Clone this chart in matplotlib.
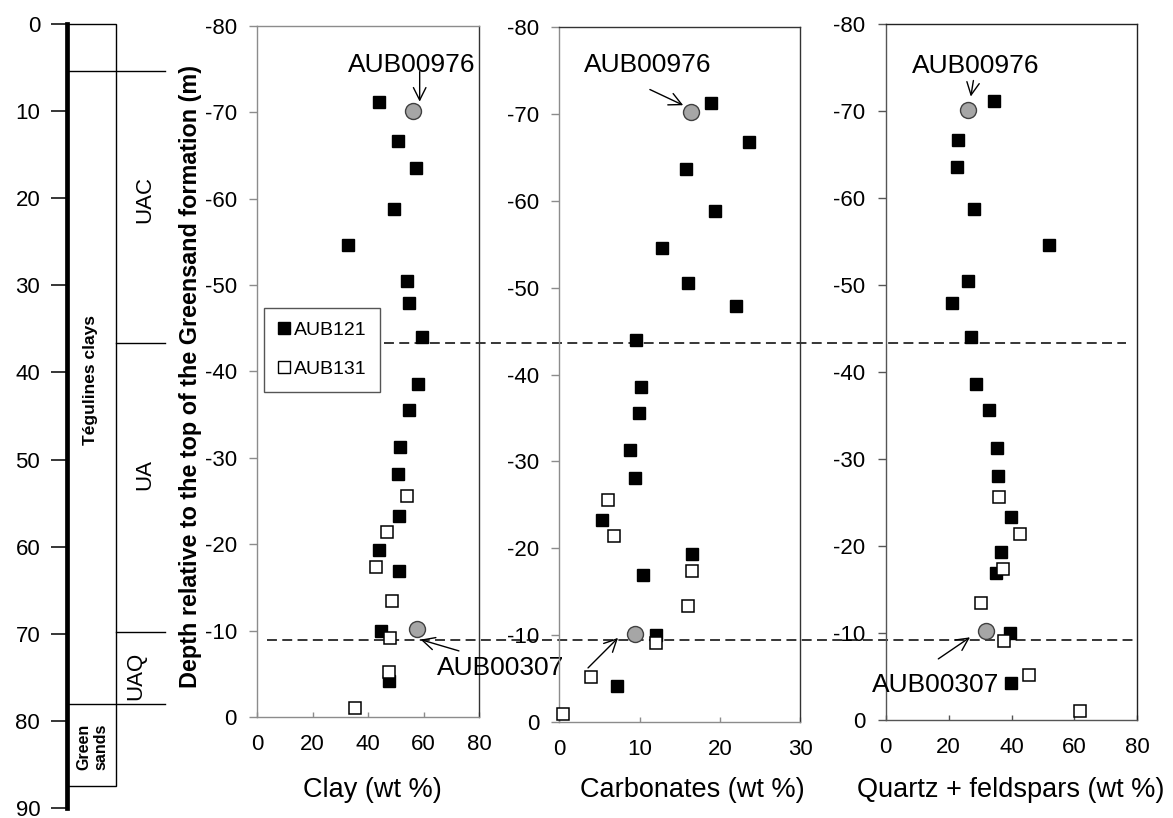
import matplotlib
matplotlib.use('Agg')
import matplotlib.pyplot as plt
from matplotlib.transforms import offset_copy, blended_transform_factory
from matplotlib.lines import Line2D
from matplotlib.patches import Rectangle

plt.rcParams['font.family'] = ['Liberation Sans', 'DejaVu Sans']
plt.rcParams['axes.unicode_minus'] = False

# ---------------- data ----------------
depth_121 = [-71.2, -66.7, -63.6, -58.8, -54.6, -50.5, -47.9, -44.0, -38.6, -35.6,
             -31.3, -28.1, -23.3, -19.3, -16.9, -10.0, -4.2]
depth_131 = [-25.6, -21.4, -17.4, -13.4, -9.1, -5.2, -1.0]
depth_ref = [-70.2, -10.2]
ref_names = ['AUB00976', 'AUB00307']

clay_121 = [44.1, 50.7, 57.3, 49.5, 32.7, 54.2, 54.9, 59.6, 58.1, 54.9,
            51.7, 50.7, 51.2, 44.1, 51.2, 44.7, 47.7]
clay_131 = [54.2, 46.8, 43.0, 48.6, 48.0, 47.7, 35.4]
clay_ref = [56.1, 57.7]

carb_121 = [18.9, 23.7, 15.8, 19.4, 12.8, 16.1, 22.0, 9.6, 10.2, 9.9,
            8.8, 9.4, 5.3, 16.5, 10.4, 12.1, 7.2]
carb_131 = [6.1, 6.8, 16.6, 16.0, 12.1, 4.0, 0.5]
carb_ref = [16.4, 9.4]

qf_121 = [34.4, 23.0, 22.8, 28.0, 52.0, 26.2, 21.0, 27.1, 28.8, 32.9,
          35.3, 35.6, 39.9, 36.6, 35.0, 39.4, 39.9]
qf_131 = [35.9, 42.7, 37.4, 30.4, 37.6, 45.6, 61.7]
qf_ref = [26.2, 31.8]

series_names = ['AUB121', 'AUB131']
xlabels = ['Clay (wt %)', 'Carbonates (wt %)', 'Quartz + feldspars (wt %)']
xmax = [80, 30, 80]
xstep = [20, 10, 20]
ylabel = 'Depth relative to the top of the Greensand formation (m)'
unit_limits = [-43.3, -8.9]          # dashed lines (panel depth)

# stratigraphic column (depth in m)
col_ticks = list(range(0, 91, 10))
col_unit_bounds = [5.4, 36.6, 69.8]
col_form_bound = 78.1
col_base = 87.5
unit_labels = ['UAC', 'UA', 'UAQ']
unit_label_depth = [20.2, 51.7, 74.8]
form_labels = ['Tégulines clays', 'Green\nsands']
form_label_depth = [40.9, 83.0]

# ---------------- layout helpers ----------------
W, H = 1173, 818
fig = plt.figure(figsize=(W / 100, H / 100), dpi=100)
fig.patch.set_facecolor('white')


def fx(x):
    return x / W


def fy(y):
    return 1 - y / H


def rect(l, t, r, b):
    return [fx(l), fy(b), fx(r) - fx(l), fy(t) - fy(b)]


# ---------------- stratigraphic column ----------------
ax0 = fig.add_axes(rect(67, 24, 170, 808))
ax0.patch.set_visible(False)
ax0.set_xlim(67, 170)
ax0.set_ylim(90, 0)
for s in ['top', 'right', 'bottom']:
    ax0.spines[s].set_visible(False)
ax0.spines['left'].set_linewidth(3.4)
ax0.spines['left'].set_color('black')
ax0.set_xticks([])
ax0.set_yticks(col_ticks)
ax0.tick_params(axis='y', direction='out', length=11.3, width=1.1,
                labelsize=16, pad=8, color='black')
ax0.add_patch(Rectangle((67, 0), 116 - 67, col_base, fill=False,
                        edgecolor='black', lw=1, clip_on=False))
ax0.plot([67, 165], [col_unit_bounds[0]] * 2, color='black', lw=1, clip_on=False)
for d in col_unit_bounds[1:]:
    ax0.plot([116, 165], [d, d], color='black', lw=1, clip_on=False)
ax0.plot([67, 165], [col_form_bound] * 2, color='black', lw=1, clip_on=False)
for lab, d, x in zip(unit_labels, unit_label_depth, [145, 145, 136]):
    ax0.text(x, d, lab, rotation=90, ha='center', va='center', fontsize=16,
             rotation_mode='anchor')
ax0.text(90.7, form_label_depth[0], form_labels[0], rotation=90, ha='center',
         va='center', fontsize=12.5, fontweight='bold', rotation_mode='anchor')
ax0.text(92.5, form_label_depth[1], form_labels[1], rotation=90, ha='center',
         va='center', fontsize=11.5, fontweight='bold', rotation_mode='anchor',
         multialignment='center', linespacing=1.2)

# ---------------- panels ----------------
panel_px = [(257, 26, 479, 717), (559.3, 26.7, 800, 722.3), (885.7, 24.3, 1137.3, 720)]
xlabel_px = [(372, 797), (692, 796.7), (1011, 796.7)]
spine_cols = [
    {'left': '#8c8c8c', 'bottom': '#8c8c8c', 'top': '#8c8c8c', 'right': '#333333'},
    {'left': '#8c8c8c', 'bottom': '#8c8c8c', 'top': '#333333', 'right': '#333333'},
    {'left': '#555555', 'bottom': '#555555', 'top': '#222222', 'right': '#222222'},
]
data = [(clay_121, clay_131, clay_ref), (carb_121, carb_131, carb_ref), (qf_121, qf_131, qf_ref)]

# annotation offsets (px, relative to reference sample marker): head, tail, text, ha
# (the AUB00307 label of the carbonate panel is shared with the clay panel)
ann = [
    [((7, 9), (7, 39), (-0.5, 39), 'center'), ((3.5, -10.7), (41.8, -22), (20, -46), 'left')],
    [((-7.7, 6.7), (-41, 22.4), (-43, 40), 'center'), ((-16.7, -4.3), (-46.7, -34.3), None, 'right')],
    [((2.7, 13), (5.3, 29), (7.7, 37), 'center'), ((-15.7, -6), (-47.4, -27.6), (-114, -61), 'left')],
]

axes = []
for i, (pp, (v121, v131, vref)) in enumerate(zip(panel_px, data)):
    ax = fig.add_axes(rect(*pp))
    ax.patch.set_visible(False)
    axes.append(ax)
    ax.set_xlim(0, xmax[i])
    ax.set_ylim(0, -80)
    ax.set_xticks(list(range(0, xmax[i] + 1, xstep[i])))
    ax.set_yticks(list(range(-80, 1, 10)))
    for s, c in spine_cols[i].items():
        ax.spines[s].set_color(c)
        ax.spines[s].set_linewidth(1)
    ax.tick_params(axis='y', direction='out', length=5.5, width=1,
                   color=spine_cols[i]['left'], labelsize=16, pad=9)
    ax.tick_params(axis='x', direction='in', length=3.5, width=1,
                   color=spine_cols[i]['bottom'], labelsize=16, pad=12)
    ax.plot(v121, depth_121, ls='none', marker='s', ms=9, mfc='black',
            mec='black', zorder=3, clip_on=False)
    ax.plot(v131, depth_131, ls='none', marker='s', ms=8.3, mfc='white',
            mec='black', mew=1.1, zorder=3, clip_on=False)
    ax.plot(vref, depth_ref, ls='none', marker='o', ms=11.5, mfc='#a6a6a6',
            mec='#404040', mew=1, zorder=4, clip_on=False)
    ax.set_xlabel(xlabels[i], fontsize=19.5)
    ax.xaxis.set_label_coords(fx(xlabel_px[i][0]), fy(xlabel_px[i][1]),
                              transform=fig.transFigure)
    ax.xaxis.label.set_va('baseline')
    for (gx, gy, name, (head, tail, toff, ha)) in zip(vref, depth_ref, ref_names, ann[i]):
        trh = offset_copy(ax.transData, fig=fig, x=head[0], y=head[1], units='dots')
        trt = offset_copy(ax.transData, fig=fig, x=tail[0], y=tail[1], units='dots')
        ax.annotate('', xy=(gx, gy), xycoords=trh, xytext=(gx, gy), textcoords=trt,
                    arrowprops=dict(arrowstyle='->,head_length=0.6,head_width=0.3',
                                    lw=1, color='black', shrinkA=0, shrinkB=0,
                                    mutation_scale=15),
                    annotation_clip=False, zorder=5)
        if toff is not None:
            trx = offset_copy(ax.transData, fig=fig, x=toff[0], y=toff[1], units='dots')
            ax.text(gx, gy, name, transform=trx, ha=ha, va='baseline', fontsize=19,
                    clip_on=False, zorder=6)

ax1 = axes[0]
ax1.set_ylabel(ylabel, fontsize=16.8, fontweight='bold')
ax1.yaxis.set_label_coords(fx(191), fy(377), transform=fig.transFigure)
ax1.yaxis.label.set(ha='center', va='center')

# legend
h1 = Line2D([], [], ls='none', marker='s', ms=9, mfc='black', mec='black')
h2 = Line2D([], [], ls='none', marker='s', ms=8.3, mfc='white', mec='black', mew=1)
leg = ax1.legend([h1, h2], series_names, loc='upper left',
                 bbox_to_anchor=(fx(264), fy(308)), bbox_transform=fig.transFigure,
                 frameon=True, fancybox=False, edgecolor='#555555', framealpha=1,
                 fontsize=14, handlelength=0.7, handletextpad=0.15,
                 labelspacing=1.1, borderpad=0.7, borderaxespad=0)
leg.get_frame().set_linewidth(1)
leg.set_zorder(10)

# dashed unit limits across panels
btr = blended_transform_factory(fig.transFigure, ax1.transData)
for d, (x0, x1) in zip(unit_limits, [(384, 1126), (267, 1133)]):
    fig.add_artist(Line2D([fx(x0), fx(x1)], [d, d], transform=btr, color='black',
                          lw=1.1, ls=(0, (6.5, 3.5)), zorder=-1))

fig.savefig('out.png', dpi=100, facecolor='white')
